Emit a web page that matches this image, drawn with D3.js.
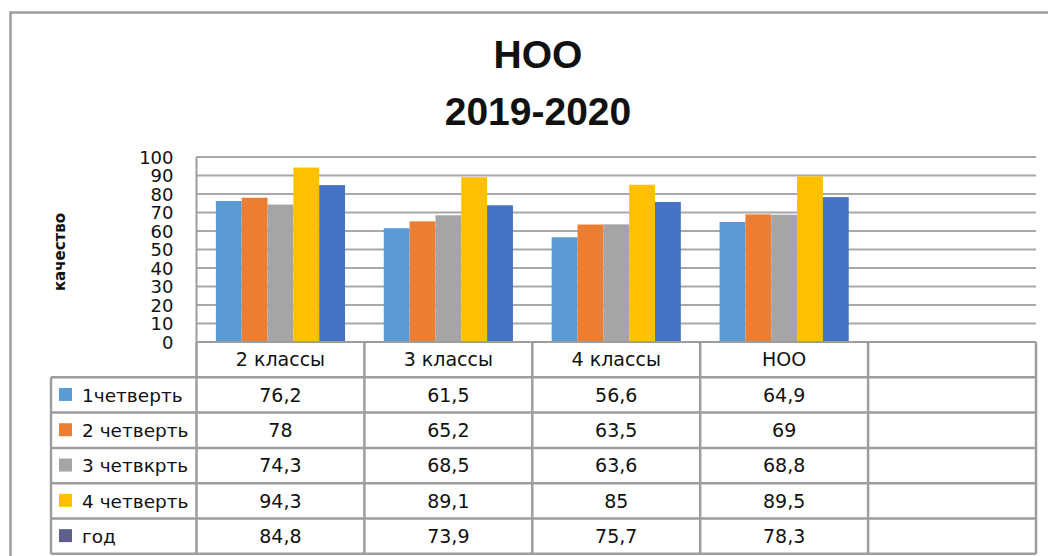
<!DOCTYPE html>
<html>
<head>
<meta charset="utf-8">
<script src="https://cdn.jsdelivr.net/npm/d3@7"></script>
<style>
	body { margin: 0; background: #fff; }
	svg text { font-family: "DejaVu Sans", sans-serif; fill: #111; }
	.title { font-family: "Liberation Sans", sans-serif !important; font-weight: bold; font-size: 39px; }
	.cell { font-size: 19px; }
	.legendlabel { font-size: 18.5px; }
</style>
</head>
<body>
<svg id="chart" width="1048" height="556"></svg>
<script>
// data
const categories = ["2 классы", "3 классы", "4 классы", "НОО", ""];
const seriesNames = ["1четверть", "2 четверть", "3 четвкрть", "4 четверть", "год"];
const q1 = [76.2, 61.5, 56.6, 64.9];
const q2 = [78, 65.2, 63.5, 69];
const q3 = [74.3, 68.5, 63.6, 68.8];
const q4 = [94.3, 89.1, 85, 89.5];
const year = [84.8, 73.9, 75.7, 78.3];
const yTicks = [0, 10, 20, 30, 40, 50, 60, 70, 80, 90, 100];

const series = [q1, q2, q3, q4, year];
const barColors = ["#5B9BD5", "#ED7D31", "#A5A5A5", "#FFC000", "#4472C4"];
const swatchColors = ["#5B9BD5", "#ED7D31", "#A5A5A5", "#FFC000", "#5f5f8c"];
const lineColor = "#9d9d9d";

const svg = d3.select("#chart");

// frame of the chart area (runs off the right and bottom edge)
svg.append("rect")
	.attr("x", 10.5).attr("y", 12.5)
	.attr("width", 1100).attr("height", 600)
	.attr("fill", "none").attr("stroke", lineColor).attr("stroke-width", 2.5);

// title
svg.append("text").attr("class", "title")
	.attr("x", 538).attr("y", 68).attr("text-anchor", "middle").text("НОО");
svg.append("text").attr("class", "title")
	.attr("x", 538).attr("y", 125).attr("text-anchor", "middle").text("2019-2020");

const plotLeft = 196.5, plotRight = 1036, plotTop = 157, plotBottom = 342;

const x = d3.scaleBand().domain(categories).range([plotLeft, plotRight]);
const x1 = d3.scaleBand().domain(d3.range(series.length))
	.range([0, x.bandwidth()]).paddingOuter(0.75);
const y = d3.scaleLinear().domain([0, 100]).range([plotBottom, plotTop]);

// gridlines
svg.append("g").selectAll("line").data(yTicks).join("line")
	.attr("x1", plotLeft).attr("x2", plotRight)
	.attr("y1", d => y(d)).attr("y2", d => y(d))
	.attr("stroke", "#a8a8a8").attr("stroke-width", 2);

// left border of the plot
svg.append("line")
	.attr("x1", plotLeft).attr("x2", plotLeft)
	.attr("y1", plotTop).attr("y2", plotBottom)
	.attr("stroke", lineColor).attr("stroke-width", 2);

// bars
const groups = svg.append("g").selectAll("g")
	.data(categories.slice(0, q1.length)).join("g")
	.attr("transform", d => `translate(${x(d)},0)`);

groups.selectAll("rect")
	.data((d, ci) => series.map((s, si) => ({ si: si, v: s[ci] })))
	.join("rect")
	.attr("x", d => x1(d.si))
	.attr("width", x1.bandwidth())
	.attr("y", d => y(d.v))
	.attr("height", d => y(0) - y(d.v))
	.attr("fill", d => barColors[d.si]);

// y axis labels
const yAxis = svg.append("g")
	.attr("transform", `translate(${plotLeft},0)`)
	.call(d3.axisLeft(y).tickValues(yTicks).tickSize(0).tickPadding(23));
yAxis.select(".domain").remove();
yAxis.selectAll("text")
	.attr("font-family", "DejaVu Sans").attr("font-size", 18).attr("fill", "#111")
	.attr("dy", "0.36em");

// axis title
svg.append("text")
	.attr("transform", "translate(65,252) rotate(-90)")
	.attr("text-anchor", "middle")
	.attr("font-weight", "bold").attr("font-size", 15)
	.text("качество");

// data table
const rowH = 35.3;
const legendLeft = 51;
const rowY = i => plotBottom + rowH * i; // i = 0 header top
const tableBottom = rowY(series.length + 1);

const tbl = svg.append("g");
// header top line
tbl.append("line")
	.attr("x1", plotLeft).attr("x2", plotRight)
	.attr("y1", rowY(0)).attr("y2", rowY(0))
	.attr("stroke", lineColor).attr("stroke-width", 2);
// row lines
tbl.selectAll("line.row").data(d3.range(1, series.length + 2)).join("line")
	.attr("class", "row")
	.attr("x1", legendLeft).attr("x2", plotRight)
	.attr("y1", d => rowY(d)).attr("y2", d => rowY(d))
	.attr("stroke", lineColor).attr("stroke-width", 2.5);
// column lines
const colEdges = categories.map(c => x(c)).concat([plotRight]);
tbl.selectAll("line.col").data(colEdges).join("line")
	.attr("class", "col")
	.attr("x1", d => d).attr("x2", d => d)
	.attr("y1", rowY(0)).attr("y2", tableBottom)
	.attr("stroke", lineColor).attr("stroke-width", 2.5);
tbl.append("line")
	.attr("x1", legendLeft).attr("x2", legendLeft)
	.attr("y1", rowY(1)).attr("y2", tableBottom)
	.attr("stroke", lineColor).attr("stroke-width", 2.5);

// header labels
tbl.selectAll("text.head").data(categories).join("text")
	.attr("class", "cell head")
	.attr("x", d => x(d) + x.bandwidth() / 2)
	.attr("y", rowY(0) + rowH / 2)
	.attr("dy", "0.36em")
	.attr("text-anchor", "middle")
	.text(d => d);

// legend cells
seriesNames.forEach((name, si) => {
	const cy = rowY(si + 1) + rowH / 2;
	tbl.append("rect")
		.attr("x", 59).attr("y", cy - 7)
		.attr("width", 13).attr("height", 13)
		.attr("fill", swatchColors[si]);
	tbl.append("text").attr("class", "legendlabel")
		.attr("x", 82).attr("y", cy).attr("dy", "0.36em")
		.text(name);
	tbl.selectAll(null).data(series[si]).join("text")
		.attr("class", "cell")
		.attr("x", (d, ci) => x(categories[ci]) + x.bandwidth() / 2)
		.attr("y", cy).attr("dy", "0.36em")
		.attr("text-anchor", "middle")
		.text(d => String(d).replace(".", ","));
});
</script>
</body>
</html>
